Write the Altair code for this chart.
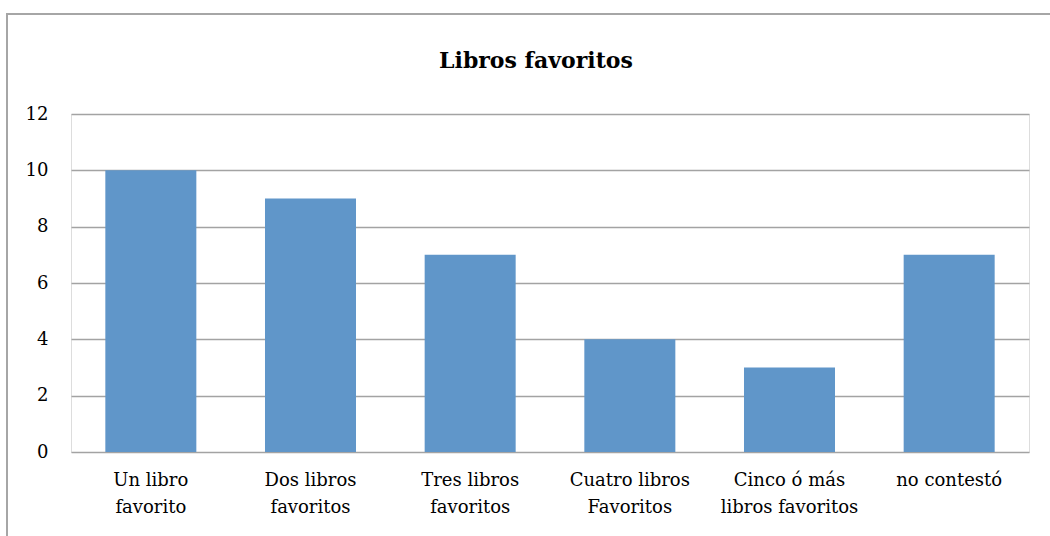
import altair as alt
import pandas as pd

categories = [
    "Un libro\nfavorito",
    "Dos libros\nfavoritos",
    "Tres libros\nfavoritos",
    "Cuatro libros\nFavoritos",
    "Cinco ó más\nlibros favoritos",
    "no contestó",
]
counts = [10, 9, 7, 4, 3, 7]
y_ticks = [0, 2, 4, 6, 8, 10, 12]
chart_title = ["Libros favoritos"]

df = pd.DataFrame({"categoria": categories, "cantidad": counts})

FONT = "DejaVu Serif"
GRID = "#A3A3A3"

bars = alt.Chart(df).mark_bar(color="#6096C9").encode(
    x=alt.X(
        "categoria:N",
        sort=categories,
        scale=alt.Scale(paddingInner=0.43, paddingOuter=0.215),
        axis=alt.Axis(
            title=None,
            labelAngle=0,
            labelExpr="split(datum.label, '\\n')",
            labelFont=FONT,
            labelFontSize=18,
            labelColor="#000000",
            labelLineHeight=27,
            labelPadding=19,
            labelBaseline="top",
            ticks=False,
            domain=False,
            grid=False,
        ),
    ),
    y=alt.Y(
        "cantidad:Q",
        scale=alt.Scale(domain=[0, 12], nice=False),
        axis=alt.Axis(
            title=None,
            values=y_ticks,
            labelFont=FONT,
            labelFontSize=18,
            labelColor="#000000",
            labelPadding=23,
            ticks=False,
            domain=False,
            gridColor=GRID,
            gridWidth=1.6,
            gridOpacity=1,
        ),
    ),
)

# outer frame around the whole chart
frame = alt.Chart(df).mark_rect(
    fill=None, stroke="#A6A6A6", strokeWidth=2, clip=False
).encode(
    x=alt.value(-64), x2=alt.value(990), y=alt.value(-100), y2=alt.value(440)
)

# chart heading
heading = alt.Chart(pd.DataFrame({"t": chart_title})).mark_text(
    font=FONT, fontSize=22, fontWeight="bold", color="#000000",
    align="center", baseline="middle",
).encode(text="t:N", x=alt.value(465), y=alt.value(-53))

chart = (
    alt.layer(frame, bars, heading)
    .properties(
        width=958,
        height=338,
        autosize=alt.AutoSizeParams(type="none"),
        padding={"left": 71, "top": 114, "right": 21, "bottom": 84},
    )
    .configure_view(stroke=None)
    .configure(background="#FFFFFF")
)

chart.save("out.html", embed_options={"renderer": "svg", "actions": False})
